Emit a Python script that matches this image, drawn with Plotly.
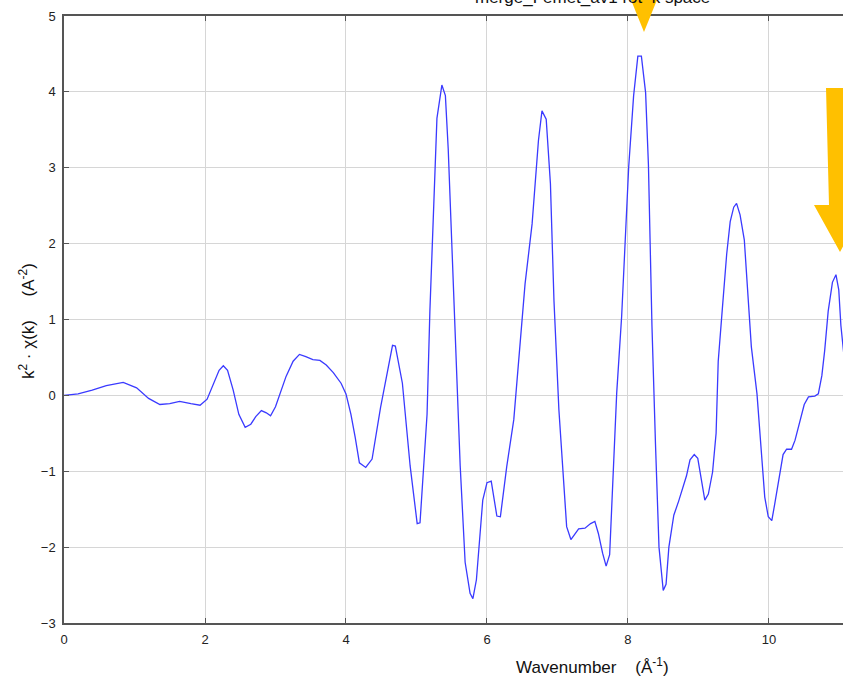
import plotly.graph_objects as go

# Wavenumber k (1/Angstrom) and k^2*chi(k) values
k_values = [
    0.0, 0.2, 0.4, 0.6, 0.84, 1.03, 1.2, 1.36, 1.5, 1.64, 1.8, 1.93, 2.03, 2.12, 2.2, 2.26,
    2.32, 2.40, 2.48, 2.57, 2.65, 2.72, 2.80, 2.87, 2.93, 3.0, 3.06, 3.15, 3.25, 3.34, 3.43,
    3.53, 3.63, 3.72, 3.82, 3.93, 4.0, 4.07, 4.13, 4.19, 4.28, 4.37, 4.49, 4.56, 4.66, 4.70,
    4.80, 4.91, 5.01, 5.05, 5.15, 5.19, 5.29, 5.36, 5.41, 5.45, 5.55, 5.62, 5.69, 5.76, 5.80,
    5.85, 5.94, 6.0, 6.06, 6.14, 6.19, 6.28, 6.38, 6.50, 6.54, 6.64, 6.73, 6.78, 6.84, 6.90,
    6.95, 7.02, 7.09, 7.13, 7.19, 7.24, 7.30, 7.39, 7.47, 7.53, 7.58, 7.64, 7.69, 7.74, 7.80,
    7.84, 7.91, 7.96, 8.01, 8.08, 8.14, 8.19, 8.25, 8.29, 8.34, 8.39, 8.44, 8.50, 8.54, 8.58,
    8.65, 8.72, 8.83, 8.88, 8.94, 8.99, 9.05, 9.09, 9.14, 9.20, 9.25, 9.28, 9.34, 9.40, 9.45,
    9.50, 9.54, 9.59, 9.65, 9.71, 9.75, 9.83, 9.90, 9.94, 9.99, 10.04, 10.08, 10.16, 10.20,
    10.25, 10.32, 10.37, 10.44, 10.50, 10.56, 10.65, 10.70, 10.75, 10.79, 10.84, 10.90, 10.95,
    10.99, 11.02, 11.1,
]
chi_values = [
    0.0, 0.02, 0.07, 0.13, 0.17, 0.10, -0.04, -0.12, -0.11, -0.08, -0.11, -0.13, -0.05, 0.15,
    0.33, 0.39, 0.33, 0.07, -0.25, -0.42, -0.38, -0.28, -0.20, -0.23, -0.27, -0.15, 0.0, 0.25,
    0.45, 0.54, 0.51, 0.47, 0.46, 0.40, 0.30, 0.16, 0.02, -0.25, -0.55, -0.89, -0.95, -0.84,
    -0.16, 0.2, 0.66, 0.65, 0.16, -0.93, -1.69, -1.68, -0.25, 1.11, 3.65, 4.09, 3.95, 3.25,
    0.89, -0.93, -2.2, -2.61, -2.68, -2.43, -1.38, -1.15, -1.13, -1.59, -1.60, -0.94, -0.32,
    0.99, 1.47, 2.26, 3.36, 3.75, 3.64, 2.79, 1.25, -0.19, -1.25, -1.73, -1.90, -1.84, -1.76,
    -1.75, -1.69, -1.66, -1.82, -2.08, -2.25, -2.10, -0.94, 0.03, 1.04, 2.04, 3.01, 3.95, 4.47,
    4.47, 3.99, 3.04, 0.92, -0.64, -2.0, -2.57, -2.49, -2.0, -1.58, -1.39, -1.06, -0.85, -0.78,
    -0.83, -1.16, -1.38, -1.30, -1.01, -0.50, 0.45, 1.16, 1.86, 2.29, 2.48, 2.53, 2.38, 2.05,
    1.16, 0.64, 0.02, -0.87, -1.34, -1.60, -1.65, -1.44, -1.01, -0.78, -0.71, -0.71, -0.59,
    -0.35, -0.12, -0.02, -0.01, 0.02, 0.26, 0.59, 1.11, 1.49, 1.59, 1.39, 0.92, 0.2,
]
x_ticks = [0, 2, 4, 6, 8, 10]
y_ticks = [-3, -2, -1, 0, 1, 2, 3, 4, 5]

W, H = 843, 682
ML, MR, MT, MB = 64, 0, 16, 59
PW, PH = W - ML - MR, H - MT - MB


def px(x):
    return (x - ML) / PW


def py(y):
    return (H - MB - y) / PH


fig = go.Figure()
fig.add_trace(go.Scatter(
    x=k_values, y=chi_values, mode="lines",
    line=dict(color="#3a3aff", width=1.3),
    showlegend=False, hoverinfo="skip",
))

axis_common = dict(
    showgrid=True, gridcolor="#d6d6d6", gridwidth=1,
    zeroline=False, showline=True, linecolor="#555555", linewidth=1.5,
    ticks="inside", ticklen=5, tickcolor="#555555", tickwidth=1,
    ticklabelstandoff=4,
    tickfont=dict(family="Liberation Sans, Arial", size=13, color="#222222"),
)
fig.update_xaxes(range=[0, 11.05], tickvals=x_ticks, mirror="ticks", **axis_common)
fig.update_yaxes(range=[-3, 5], tickvals=y_ticks, mirror=False, **axis_common)

annotations = [
    dict(text="Wavenumber    (Å<sup>-1</sup>)", xref="paper", yref="paper",
         x=px(592), y=py(666), xanchor="center", yanchor="middle", showarrow=False,
         font=dict(family="Liberation Sans, Arial", size=17, color="#111111")),
    dict(text="k<sup>2</sup> · χ(k)     (A<sup>-2</sup>)", xref="paper", yref="paper",
         x=px(27), y=py(321), xanchor="center", yanchor="middle", textangle=-90,
         showarrow=False,
         font=dict(family="Liberation Sans, Arial", size=17, color="#111111")),
    dict(text="merge_Femet_av1 rot  k space", xref="paper", yref="paper",
         x=px(592), y=py(-3), xanchor="center", yanchor="middle", showarrow=False,
         font=dict(family="Liberation Sans, Arial", size=17, color="#111111")),
]


def path(points):
    return "M " + " L ".join(f"{px(a):.5f},{py(b):.5f}" for a, b in points) + " Z"


shapes = [
    dict(type="path", xref="paper", yref="paper", layer="above",
         path=path([(627, -10), (661, -10), (644, 32)]),
         fillcolor="#FFC000", line=dict(width=0)),
    dict(type="path", xref="paper", yref="paper", layer="above",
         path=path([(826, 88), (829, 205), (814, 205), (840, 252), (866, 205), (852, 205), (849, 88)]),
         fillcolor="#FFC000", line=dict(width=0)),
]

fig.update_layout(
    width=W, height=H, autosize=False,
    margin=dict(l=ML, r=MR, t=MT, b=MB),
    paper_bgcolor="white", plot_bgcolor="white",
    annotations=annotations, shapes=shapes,
)

fig.write_html(
    "out.html",
    config={"displayModeBar": False},
    post_script="document.body.style.margin='0';document.body.style.overflow='hidden';",
)
